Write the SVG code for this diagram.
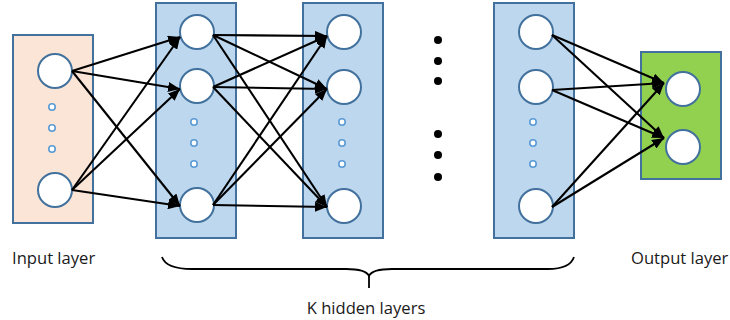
<svg xmlns="http://www.w3.org/2000/svg" width="730" height="320" viewBox="0 0 730 320">
<defs>
<style>
.layer{stroke:#41719C;stroke-width:2}
.node{fill:#fff;stroke:#41719C;stroke-width:2}
.dot{fill:#fff;stroke:#5B9BD5;stroke-width:1.6}
.ell{fill:#000}
.edge{stroke:#000;stroke-width:2.1;fill:none;marker-end:url(#arr)}
.lbl{font-family:"Open Sans","Liberation Sans",sans-serif;font-size:16.6px;fill:#1a1a1a}
.brace{stroke:#000;stroke-width:1.8;fill:none}
</style>
<marker id="arr" markerUnits="userSpaceOnUse" markerWidth="12" markerHeight="10" refX="12" refY="5" orient="auto">
<path d="M0,0 L12,5 L0,10 z" fill="#000"/>
</marker>
</defs>
<rect width="730" height="320" fill="#fff"/>
<g id="input-layer">
<rect class="layer" x="13" y="35" width="80" height="188" fill="#FBE5D6"/>
<circle class="node" cx="55" cy="71" r="17"/>
<circle class="node" cx="55" cy="190" r="17"/>
<circle class="dot" cx="52" cy="107" r="3.2"/>
<circle class="dot" cx="52" cy="128" r="3.2"/>
<circle class="dot" cx="52" cy="149" r="3.2"/>
</g>
<g id="hidden-layer-1">
<rect class="layer" x="156" y="3" width="80" height="235" fill="#BDD7EE"/>
<circle class="node" cx="197" cy="32" r="17"/>
<circle class="node" cx="197" cy="86" r="17"/>
<circle class="node" cx="197" cy="205" r="17"/>
<circle class="dot" cx="194" cy="122" r="3.2"/>
<circle class="dot" cx="194" cy="143" r="3.2"/>
<circle class="dot" cx="194" cy="164" r="3.2"/>
</g>
<g id="hidden-layer-2">
<rect class="layer" x="303" y="3" width="80" height="235" fill="#BDD7EE"/>
<circle class="node" cx="344" cy="32" r="17"/>
<circle class="node" cx="344" cy="87" r="17"/>
<circle class="node" cx="344" cy="206" r="17"/>
<circle class="dot" cx="342" cy="122" r="3.2"/>
<circle class="dot" cx="342" cy="143" r="3.2"/>
<circle class="dot" cx="342" cy="164" r="3.2"/>
</g>
<g id="ellipsis">
<circle class="ell" cx="438" cy="40" r="4"/>
<circle class="ell" cx="438" cy="61" r="4"/>
<circle class="ell" cx="438" cy="81" r="4"/>
<circle class="ell" cx="438" cy="134" r="4"/>
<circle class="ell" cx="438" cy="155" r="4"/>
<circle class="ell" cx="438" cy="177" r="4"/>
</g>
<g id="hidden-layer-k">
<rect class="layer" x="494" y="3" width="80" height="235" fill="#BDD7EE"/>
<circle class="node" cx="536" cy="32" r="17"/>
<circle class="node" cx="536" cy="87" r="17"/>
<circle class="node" cx="536" cy="206" r="17"/>
<circle class="dot" cx="533" cy="122" r="3.2"/>
<circle class="dot" cx="533" cy="143" r="3.2"/>
<circle class="dot" cx="533" cy="164" r="3.2"/>
</g>
<g id="output-layer">
<rect class="layer" x="641" y="52" width="80" height="127" fill="#92D050"/>
<circle class="node" cx="683" cy="89" r="17"/>
<circle class="node" cx="683" cy="147" r="17"/>
</g>
<g id="connectors">
<line class="edge" x1="72" y1="71" x2="180" y2="37"/>
<line class="edge" x1="72" y1="71" x2="180" y2="89"/>
<line class="edge" x1="72" y1="71" x2="180" y2="206"/>
<line class="edge" x1="72" y1="190" x2="180" y2="37"/>
<line class="edge" x1="72" y1="190" x2="180" y2="89"/>
<line class="edge" x1="72" y1="190" x2="180" y2="206"/>
<line class="edge" x1="213" y1="35" x2="327" y2="36"/>
<line class="edge" x1="213" y1="35" x2="327" y2="89"/>
<line class="edge" x1="213" y1="35" x2="327" y2="207"/>
<line class="edge" x1="213" y1="87" x2="327" y2="36"/>
<line class="edge" x1="213" y1="87" x2="327" y2="89"/>
<line class="edge" x1="213" y1="87" x2="327" y2="207"/>
<line class="edge" x1="213" y1="205" x2="327" y2="36"/>
<line class="edge" x1="213" y1="205" x2="327" y2="89"/>
<line class="edge" x1="213" y1="205" x2="327" y2="207"/>
<line class="edge" x1="552" y1="35" x2="664" y2="83"/>
<line class="edge" x1="552" y1="35" x2="664" y2="138"/>
<line class="edge" x1="552" y1="90" x2="664" y2="83"/>
<line class="edge" x1="552" y1="90" x2="664" y2="138"/>
<line class="edge" x1="552" y1="207" x2="664" y2="83"/>
<line class="edge" x1="552" y1="207" x2="664" y2="138"/>
</g>
<g id="brace">
<path class="brace" d="M162,257 Q166,269 192,269 L346,269 Q366,269 369,276 Q372,269 392,269 L548,269 Q570,269 574,257"/>
<path class="brace" d="M369,275 L369,288"/>
</g>
<g id="labels">
<text class="lbl" x="12" y="264">Input layer</text>
<text class="lbl" x="631" y="264">Output layer</text>
<text class="lbl" x="366" y="314" text-anchor="middle">K hidden layers</text>
</g>
</svg>
